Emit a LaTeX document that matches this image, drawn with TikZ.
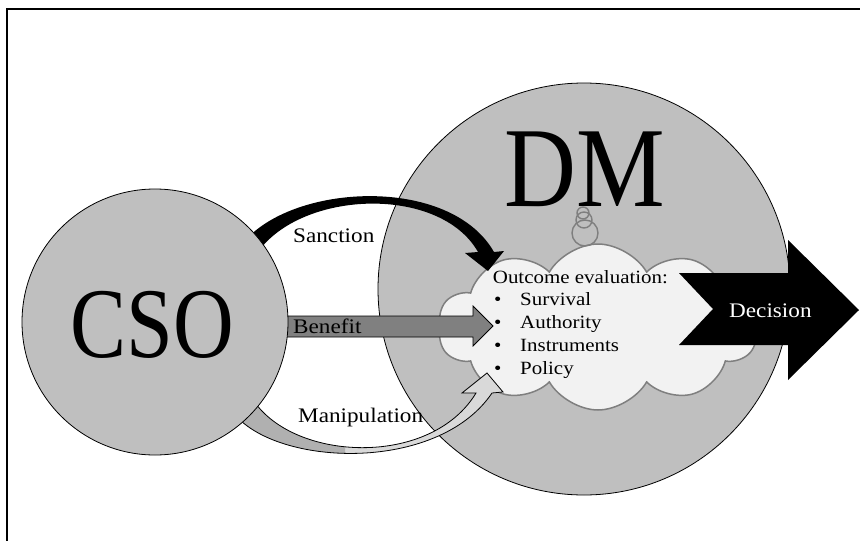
\documentclass[tikz,border=0pt]{standalone}
\usepackage{fontspec}
\setmainfont[FakeStretch=1.12]{Liberation Serif}
\usetikzlibrary{shapes.symbols}
\definecolor{circfill}{HTML}{BFBFBF}
\definecolor{cloudfill}{HTML}{F2F2F2}
\definecolor{cloudline}{HTML}{7F7F7F}
\definecolor{benefitfill}{HTML}{808080}
\definecolor{maniplight}{HTML}{D9D9D9}
\definecolor{manipdark}{HTML}{B0B0B0}
\tikzset{
  actor/.style={circle, draw=black, line width=0.8pt, fill=circfill, inner sep=0pt},
  biglabel/.style={inner sep=0pt, anchor=base},
  lbl/.style={inner sep=0pt, anchor=base west, font=\fontsize{20.7}{24}\selectfont},
  evalline/.style={inner sep=0pt, anchor=base west, font=\fontsize{18.7}{22.8}\selectfont},
  bulletdot/.style={inner sep=0pt, anchor=base west, font=\fontsize{18.7}{22.8}\selectfont},
  bubble/.style={draw=cloudline, line width=1.4pt},
}
\begin{document}
\begin{tikzpicture}[x=1pt,y=-1pt]
\useasboundingbox (0,0) rectangle (860,541);
% frame
\draw[line width=1.6pt] (7,541) -- (7,9) -- (860,9);

% decision maker
\node[actor, minimum size=412pt] (dm) at (584,289) {};
\node[biglabel, xscale=0.78, font=\fontsize{114}{114}\selectfont] (dmtext) at (585,206) {DM};

% thought cloud
\node[cloud, cloud puffs=10, cloud puff arc=120, draw=cloudline, line width=1.5pt,
      fill=cloudfill, minimum width=320pt, minimum height=166pt, inner sep=0pt]
      (cloud) at (598,327) {};
\draw[bubble] (585,233) circle (13);
\draw[bubble] (584,220) circle (8);
\draw[bubble] (583,213) circle (6);

% evaluation list
\node[evalline] (evalhead) at (492.7,283) {Outcome evaluation:};
\foreach \name/\item [count=\i] in {survival/Survival, authority/Authority,
    instruments/Instruments, policy/Policy} {
  \node[bulletdot] (dot-\name) at (494,{283+22.8*\i}) {•};
  \node[evalline] (item-\name) at (520,{283+22.8*\i}) {\item};
}

% sanction (black curved arrow)
\coordinate (sA) at (243,243);
\coordinate (sB) at (494,252);
\coordinate (sC) at (478,252);
\coordinate (sD) at (258,252);
\fill[black] (sA) .. controls (292,183) and (450,175) .. (sB)
  -- (504,251) -- (488,271) -- (465,253) -- (sC)
  .. controls (440,185) and (302,190) .. (sD) -- cycle;

% manipulation (light curved arrow)
\coordinate (mA) at (240,420);
\coordinate (mB) at (492,393);
\coordinate (mC) at (476,393);
\coordinate (mD) at (256,404);
\def\manippath{(mA) .. controls (290,467) and (440,470) .. (mB)
  -- (503,392) -- (487,373) -- (462,393) -- (mC)
  .. controls (432,466) and (300,462) .. (mD) -- cycle}
\fill[maniplight] \manippath;
\begin{scope}
  \clip (0,0) rectangle (345,541);
  \fill[manipdark] \manippath;
\end{scope}
\draw[line width=0.8pt] \manippath;

% benefit (straight arrow)
\filldraw[fill=benefitfill, draw=black, line width=0.8pt]
  (285,316) -- (473,316) -- (473,306) -- (493,326) -- (473,346)
  -- (473,337) -- (285,337) -- cycle;

% civil society organisation
\node[actor, minimum size=266pt] (cso) at (155,322) {};
\node[biglabel, xscale=0.75, font=\fontsize{100}{100}\selectfont] (csotext) at (152.5,357) {CSO};

% arrow labels
\node[lbl] (sanction) at (293,242) {Sanction};
\node[lbl] (benefit) at (293,333) {Benefit};
\node[lbl] (manip) at (298,422) {Manipulation};

% decision (black notched arrow)
\fill[black] (679,273) -- (788,273) -- (788,240) -- (859,310) -- (788,380)
  -- (788,345) -- (679,345) -- (713,309) -- cycle;
\node[lbl, text=white] (decision) at (729,317) {Decision};
\end{tikzpicture}
\end{document}
